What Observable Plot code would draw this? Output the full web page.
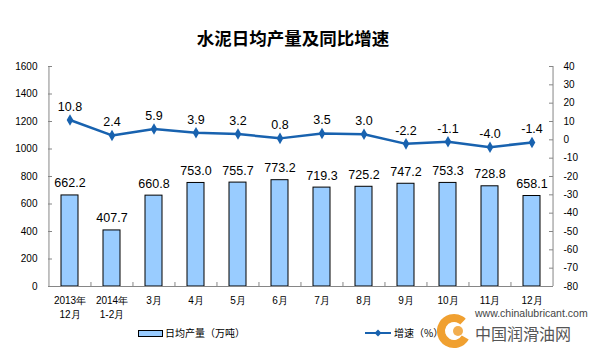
<!DOCTYPE html>
<html>
<head>
<meta charset="utf-8">
<script src="https://cdn.jsdelivr.net/npm/d3@7"></script>
<script src="https://cdn.jsdelivr.net/npm/@observablehq/plot@0.6"></script>
<style>
  html, body { margin: 0; padding: 0; background: #fff; }
  #wrap { position: relative; width: 600px; height: 359px; overflow: hidden; font-family: "Liberation Sans", Arial, "Noto Sans CJK SC", sans-serif; }
  #title { position: absolute; left: 0; width: 586px; top: 27px; text-align: center; font-size: 17.5px; font-weight: bold; font-family: "Noto Sans CJK SC", sans-serif; color: #000; line-height: 22px; }
  .leg { position: absolute; font-size: 10px; color: #000; font-family: "Noto Sans CJK SC", sans-serif; line-height: 12px; }
</style>
</head>
<body>
<div id="wrap">
  <div id="chart"></div>
  <div id="title">水泥日均产量及同比增速</div>
  <div style="position:absolute;left:138px;top:330px;width:23px;height:5px;background:#99CCFF;border:1px solid #000;"></div>
  <div class="leg" style="left:165px;top:327px;">日均产量（万吨）</div>
  <svg style="position:absolute;left:363px;top:327px;" width="30" height="12">
    <line x1="2" y1="6" x2="28" y2="6" stroke="#1862AF" stroke-width="2"/>
    <path d="M15,2.5 L18.5,6 L15,9.5 L11.5,6 Z" fill="#1862AF"/>
  </svg>
  <div class="leg" style="left:394px;top:327px;">增速（%）</div>
  <svg style="position:absolute;left:433px;top:305px;" width="165" height="54">
    <circle cx="21" cy="26" r="13" fill="none" stroke="#F0A030" stroke-width="8" stroke-dasharray="64 18" transform="rotate(30 21 26)"/>
    <circle cx="25" cy="26" r="5" fill="#F0A030" opacity="0.85"/>
    <text x="42" y="12" font-size="10.5" fill="#444" font-family="Liberation Sans, Arial, sans-serif">www.chinalubricant.com</text>
    <text x="42" y="35" font-size="16" fill="#555" font-family="Noto Sans CJK SC, sans-serif">中国润滑油网</text>
  </svg>
</div>
<script>
const categories = ["2013年\n12月", "2014年\n1-2月", "3月", "4月", "5月", "6月", "7月", "8月", "9月", "10月", "11月", "12月"];
const output = [662.2, 407.7, 660.8, 753.0, 755.7, 773.2, 719.3, 725.2, 747.2, 753.3, 728.8, 658.1];
const growth = [10.8, 2.4, 5.9, 3.9, 3.2, 0.8, 3.5, 3.0, -2.2, -1.1, -4.0, -1.4];
const leftTicks = [0, 200, 400, 600, 800, 1000, 1200, 1400, 1600];
const rightTicks = [-80, -70, -60, -50, -40, -30, -20, -10, 0, 10, 20, 30, 40];

const data = categories.map((c, i) => ({cat: c, output: output[i], growth: growth[i]}));
const gMin = -80, gMax = 40, yMax = 1600;
const g2y = g => (g - gMin) * yMax / (gMax - gMin);
const y2g = v => v * (gMax - gMin) / yMax + gMin;

const axisColor = "#868686";
const lineColor = "#1862AF";
const plotH = 359 - 66 - 73;
const plotW = 600 - 48 - 47;
const half = plotW / categories.length / 2;

const chart = Plot.plot({
  width: 600,
  height: 359,
  marginTop: 66,
  marginRight: 47,
  marginBottom: 73,
  marginLeft: 48,
  style: {fontFamily: "Liberation Sans, Arial, sans-serif", fontSize: "10px", background: "transparent", color: "#000"},
  x: {domain: categories, paddingInner: 0.6, paddingOuter: 0.3, label: null},
  y: {domain: [0, yMax], label: null},
  marks: [
    Plot.barY(data, {x: "cat", y: "output", fill: "#99CCFF", stroke: "#000", strokeWidth: 1}),
    Plot.text(data, {x: "cat", y: "output", text: d => d.output.toFixed(1), dy: -12, fontSize: 12.5, fill: "#000"}),
    Plot.ruleY([0], {stroke: axisColor}),
    Plot.ruleX([categories[0]], {dx: -half, stroke: axisColor}),
    Plot.ruleX([categories[categories.length - 1]], {dx: half, stroke: axisColor}),
    Plot.tickX(categories.slice(1), {x: d => d, dx: -half, stroke: axisColor, insetTop: plotH - 4}),
    Plot.tickY(leftTicks, {y: d => d, stroke: axisColor, insetRight: plotW - 4}),
    Plot.tickY(rightTicks.map(g2y), {y: d => d, stroke: axisColor, insetLeft: plotW - 4}),
    Plot.axisY({anchor: "left", ticks: leftTicks, tickFormat: d => String(d), tickSize: 0, tickPadding: 11, fontSize: 10, label: null}),
    Plot.axisY({anchor: "right", ticks: rightTicks.map(g2y), tickFormat: v => String(Math.round(y2g(v))), tickSize: 0, tickPadding: 10, fontSize: 10, label: null}),
    Plot.axisX({tickSize: 0, tickPadding: 8, fontSize: 10, lineHeight: 1.4, label: null}),
    Plot.line(data, {x: "cat", y: d => g2y(d.growth), stroke: lineColor, strokeWidth: 2.5}),
    Plot.dot(data, {x: "cat", y: d => g2y(d.growth), symbol: "diamond", r: 3.5, fill: lineColor}),
    Plot.text(data, {x: "cat", y: d => g2y(d.growth), text: d => d.growth.toFixed(1), dy: -13, fontSize: 12.5, fill: "#000"})
  ]
});
document.getElementById("chart").appendChild(chart);
</script>
</body>
</html>
